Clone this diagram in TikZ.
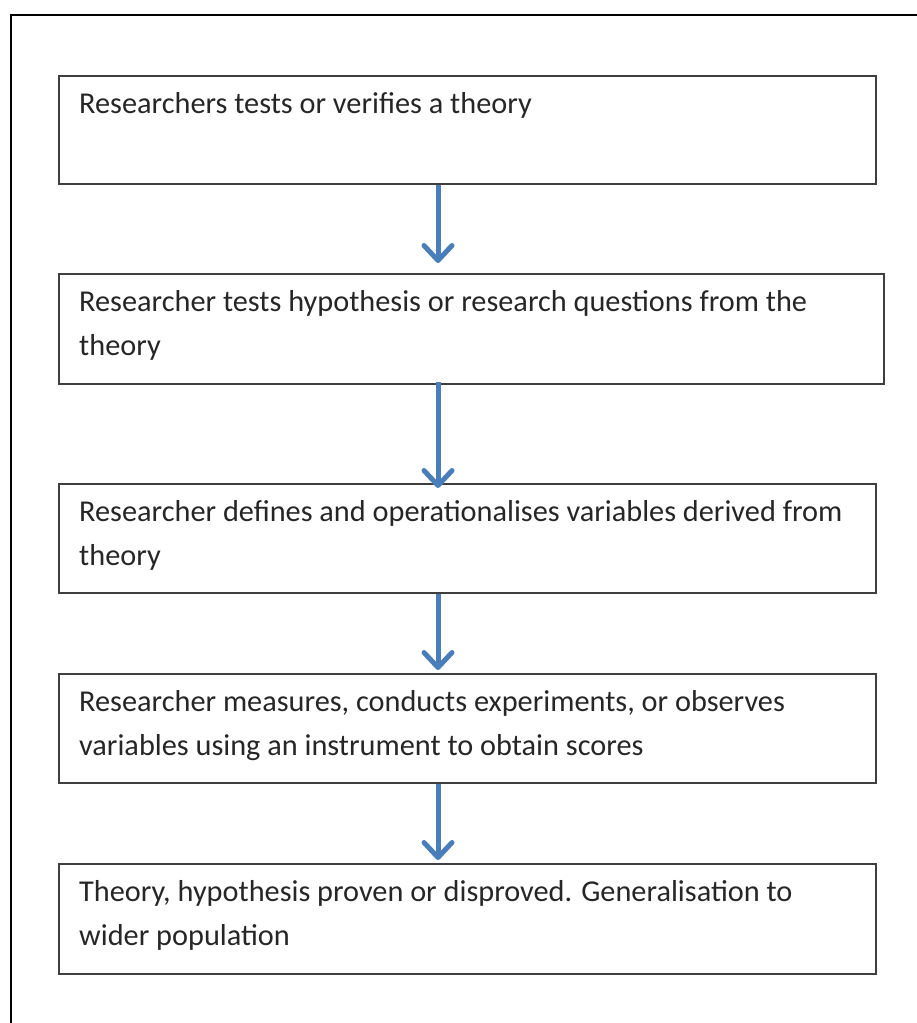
\documentclass[tikz,border=0pt]{standalone}
\usepackage{fontspec}
\setmainfont{Carlito}
\usetikzlibrary{arrows.meta,calc}
\definecolor{boxline}{HTML}{3F3F3F}
\definecolor{arrowblue}{HTML}{4A7EBB}
\begin{document}
\begin{tikzpicture}[x=1pt,y=-1pt,
  stepbox/.style={draw=boxline, line width=2pt, rectangle, anchor=north west, inner sep=0pt},
  boxtext/.style={anchor=north west, inner sep=0pt, align=left, font=\fontsize{30.3}{44}\selectfont, text=black!85},
  flow/.style={draw=arrowblue, line width=5pt, -{Straight Barb[length=15pt,width=28pt,line cap=round,line join=round]}}]
\useasboundingbox (0,0) rectangle (916,1023);
% outer frame (open to the right and bottom)
\draw[line width=2.5pt] (11,1030) -- (11,15) -- (925,15);
% process boxes
\node[stepbox, minimum width=817pt, minimum height=108pt] (b1) at (58,75) {};
\node[stepbox, minimum width=825pt, minimum height=110pt] (b2) at (58,273) {};
\node[stepbox, minimum width=817pt, minimum height=109pt] (b3) at (58,483) {};
\node[stepbox, minimum width=817pt, minimum height=109pt] (b4) at (58,673) {};
\node[stepbox, minimum width=817pt, minimum height=110pt] (b5) at (58,863) {};
% texts
\node[boxtext] (t1) at ($(b1.north west)+(21,17)$) {Researchers tests or verifies a theory};
\node[boxtext] (t2) at ($(b2.north west)+(21,17)$) {Researcher tests hypothesis or research questions from the\\theory};
\node[boxtext] (t3) at ($(b3.north west)+(21,17)$) {Researcher defines and operationalises variables derived from\\theory};
\node[boxtext] (t4) at ($(b4.north west)+(21,17)$) {Researcher measures, conducts experiments, or observes\\variables using an instrument to obtain scores};
\node[boxtext] (t5) at ($(b5.north west)+(21,17)$) {Theory, hypothesis proven or disproved. Generalisation to\\wider population};
% connectors
\coordinate (ax) at (438,0);
\draw[flow, shorten >=10pt] (b1.south -| ax) -- (b2.north -| ax);
\draw[flow, shorten >=-5pt] ([yshift=3pt]b2.south -| ax) -- (b3.north -| ax);
\draw[flow, shorten >=3pt] (b3.south -| ax) -- (b4.north -| ax);
\draw[flow, shorten >=3pt] (b4.south -| ax) -- (b5.north -| ax);
\end{tikzpicture}
\end{document}
